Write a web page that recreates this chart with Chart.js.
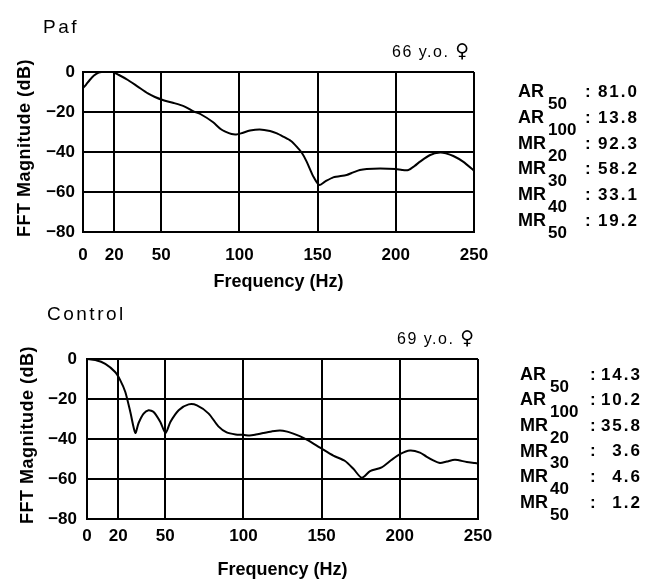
<!DOCTYPE html>
<html>
<head>
<meta charset="utf-8">
<script src="https://cdn.jsdelivr.net/npm/chart.js@4.4.1/dist/chart.umd.min.js"></script>
<style>
  html, body { margin: 0; padding: 0; background: #fff; }
  #page { position: relative; width: 646px; height: 581px; overflow: hidden; color: #000;
          font-family: "Liberation Sans", Arial, "DejaVu Sans", sans-serif; }
  canvas { position: absolute; left: 0; }
  .t { position: absolute; white-space: nowrap; line-height: 1; }
  .sym { font-family: "DejaVu Sans", sans-serif; font-size: 19px; letter-spacing: 0; }
  .ytitle { position: absolute; white-space: nowrap; line-height: 1; font-weight: bold;
            font-size: 18px; letter-spacing: 0.5px; transform: translate(-50%, -50%) rotate(-90deg); }
</style>
</head>
<body>
<div id="page">
  <canvas id="chartPaf" width="646" height="295" style="top:0px"></canvas>
  <canvas id="chartCtrl" width="646" height="291" style="top:290px"></canvas>
</div>
<script>
// ====================
// Datos
// ====================
const xTicks = [0, 20, 50, 100, 150, 200, 250];
const yTicks = [0, -20, -40, -60, -80];

// Paf, 66 y.o.
const pafFreq = [0, 2, 4.3, 7, 10, 12, 19, 23, 28.7, 35, 41.5, 46, 51, 58, 65, 71, 75, 83, 88, 91, 95, 98,
  101, 106.8, 113, 119.6, 124, 128, 133, 136.6, 140, 143, 147.3, 151, 154.7, 160, 168.6, 172.8, 177,
  181.4, 190, 200, 204, 208, 212, 215.5, 222, 228.3, 232, 236.8, 243, 249.5, 250];
const pafMag = [-8, -6.3, -4, -1.8, -0.3, 0, 0, -1.5, -4, -7.3, -10.7, -12.5, -14, -15.5, -17.3, -19.8, -21,
  -25, -28.5, -29.8, -31, -31.2, -30.7, -29.3, -28.7, -29.5, -30.7, -32.3, -34.5, -37.3, -40.5, -44.8,
  -52.3, -56.5, -54.8, -52.7, -51.5, -50.2, -49, -48.5, -48.3, -48.5, -49, -49, -47, -44.8, -41.5,
  -40.3, -40.7, -42, -44.8, -49, -49.5];

// Control, 69 y.o.
const ctrlFreq = [0, 5.3, 11.7, 18, 21.3, 24.5, 27.7, 30.9, 33, 36.2, 39.4, 42.6, 46.9, 50.2, 53.3, 58.6,
  65, 70.3, 77.8, 84, 89.3, 95, 100, 104, 108, 112.7, 118, 123.4, 128, 131.9, 136, 140.5, 149, 157.5,
  165, 170.3, 175.7, 181, 188.4, 194.8, 200.1, 206.5, 212.9, 217, 221.4, 225.7, 230, 235.3, 242.8,
  248.1, 250];
const ctrlMag = [0, -0.5, -2.4, -6.5, -10.7, -16.5, -26.5, -37, -32, -27.3, -25.6, -26.5, -31.5, -37,
  -31.5, -25.6, -22.7, -23.2, -27.3, -33.7, -36.7, -37.7, -37.9, -38.3, -37.8, -37, -36.2, -35.7,
  -36.3, -37.3, -38.6, -40.3, -44.3, -48.3, -51, -54.9, -59.4, -56.1, -54.2, -50.4, -47.6, -45.8,
  -46.8, -48.8, -50.7, -52, -51.3, -50.4, -51.5, -52, -52.2];

// Índices a la derecha
const indexNames = ['AR', 'AR', 'MR', 'MR', 'MR', 'MR'];
const indexSubs = ['50', '100', '20', '30', '40', '50'];
const pafIndex = ['81.0', '13.8', '92.3', '58.2', '33.1', '19.2'];
const ctrlIndex = ['14.3', '10.2', '35.8', '3.6', '4.6', '1.2'];

// ====================
// Gráficos
// ====================
const FAMILY = '"Liberation Sans", Arial, sans-serif';
const page = document.getElementById('page');

function makeChart(id, freq, mag, box) {
  return new Chart(document.getElementById(id), {
    type: 'line',
    data: {
      datasets: [{
        data: freq.map((f, i) => ({ x: f, y: mag[i] })),
        borderColor: '#000', borderWidth: 2, pointRadius: 0, tension: 0.25, fill: false
      }]
    },
    options: {
      responsive: false,
      animation: false,
      layout: { padding: { top: box.top, left: 0, right: 646 - box.right, bottom: 0 } },
      plugins: { legend: { display: false }, tooltip: { enabled: false } },
      scales: {
        x: {
          type: 'linear', min: 0, max: 250,
          afterBuildTicks: s => { s.ticks = xTicks.map(v => ({ value: v })); },
          afterFit: s => { s.height = box.h - box.bottom; s.paddingLeft = 0; s.paddingRight = 0; },
          grid: { color: '#000', lineWidth: 2, drawTicks: false },
          border: { color: '#000', width: 2 },
          ticks: { color: '#000', font: { family: FAMILY, size: 17, weight: 'bold' },
                   padding: box.xTickPad, maxRotation: 0, autoSkip: false },
          title: { display: true, text: 'Frequency (Hz)', color: '#000',
                   font: { family: FAMILY, size: 18, weight: 'bold' },
                   padding: { top: 0, bottom: box.xTitlePad } }
        },
        y: {
          min: -80, max: 0,
          afterBuildTicks: s => { s.ticks = yTicks.map(v => ({ value: v })); },
          afterFit: s => { s.width = box.left; s.paddingTop = 0; s.paddingBottom = 0; },
          grid: { color: '#000', lineWidth: 2, drawTicks: false },
          border: { color: '#000', width: 2 },
          ticks: { color: '#000', font: { family: FAMILY, size: 17, weight: 'bold' }, padding: box.yTickPad,
                   callback: v => v < 0 ? '\u2212' + Math.abs(v) : String(v) }
        }
      }
    }
  });
}

makeChart('chartPaf', pafFreq, pafMag,
  { h: 295, top: 72, bottom: 232, left: 83, right: 474, xTickPad: 13, xTitlePad: 2, yTickPad: 8 });
makeChart('chartCtrl', ctrlFreq, ctrlMag,
  { h: 291, top: 69, bottom: 229, left: 87, right: 478, xTickPad: 7, xTitlePad: 0, yTickPad: 10 });

// ====================
// Textos
// ====================
function putText(txt, x, base, size, o = {}) {
  const d = document.createElement('div');
  d.className = 't';
  d.textContent = txt;
  d.style.fontSize = size + 'px';
  d.style.fontWeight = o.bold ? 'bold' : 'normal';
  const ls = o.ls || 0;
  if (ls) d.style.letterSpacing = ls + 'px';
  d.style.top = (base - 0.8465 * size) + 'px';
  if (o.right) d.style.right = (646 - x - ls) + 'px';
  else d.style.left = x + 'px';
  if (o.sym) {
    const s = document.createElement('span');
    s.className = 'sym';
    s.textContent = o.sym;
    d.appendChild(s);
  }
  page.appendChild(d);
}

function putYTitle(cx, cy) {
  const d = document.createElement('div');
  d.className = 'ytitle';
  d.textContent = 'FFT Magnitude (dB)';
  d.style.left = cx + 'px';
  d.style.top = cy + 'px';
  page.appendChild(d);
}

function putIndex(values, x0, base0, step, xSub, xColon, xRight) {
  values.forEach((v, i) => {
    const b = base0 + step * i;
    putText(indexNames[i], x0, b, 18, { bold: true });
    putText(indexSubs[i], xSub, b + 12, 17, { bold: true });
    putText(':', xColon, b, 17, { bold: true });
    putText(v, xRight, b, 17, { bold: true, ls: 2, right: true });
  });
}

// Paf
putText('Paf', 43, 33, 19, { ls: 2.5 });
putText('66 y.o. ', 392, 55, 16, { ls: 1.5, sym: '\u2640' });
putYTitle(24, 148);
putIndex(pafIndex, 518, 97.3, 25.8, 548, 585, 637);

// Control
putText('Control', 47, 320, 19, { ls: 2.5 });
putText('69 y.o. ', 397, 341.5, 16, { ls: 1.5, sym: '\u2640' });
putYTitle(26.5, 435);
putIndex(ctrlIndex, 520, 380, 25.6, 550, 590, 640);
</script>
</body>
</html>
